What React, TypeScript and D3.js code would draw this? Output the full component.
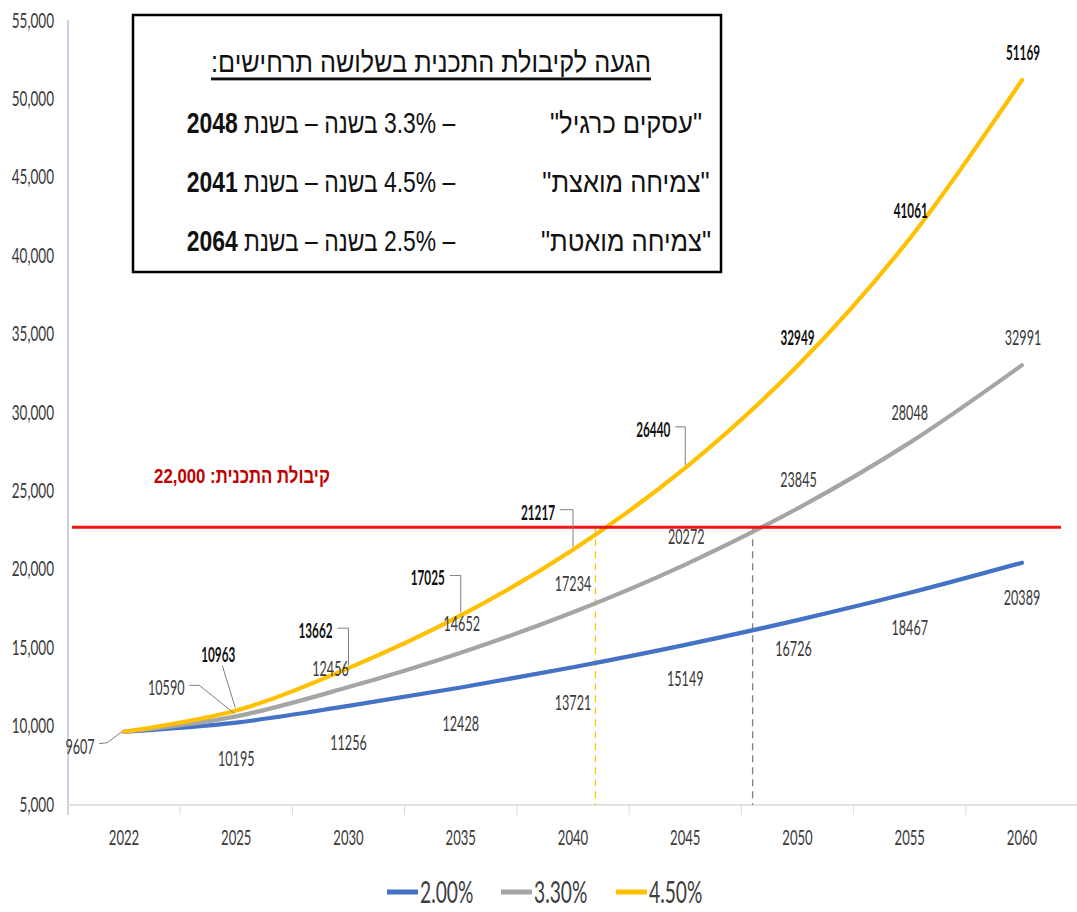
import React from "react";
import * as d3 from "d3";

const years = ["2022", "2025", "2030", "2035", "2040", "2045", "2050", "2055", "2060"];
const seriesNames = ["2.00%", "3.30%", "4.50%"];
const growth20 = [9607, 10195, 11256, 12428, 13721, 15149, 16726, 18467, 20389];
const growth33 = [9607, 10590, 12456, 14652, 17234, 20272, 23845, 28048, 32991];
const growth45 = [9607, 10963, 13662, 17025, 21217, 26440, 32949, 41061, 51169];
const yTicks = [5000, 10000, 15000, 20000, 25000, 30000, 35000, 40000, 45000, 50000, 55000];
const capacityLabel = "קיבולת התכנית: 22,000";
const capacityLineValue = 22650; // as drawn in the picture
const reachYears = [2041, 2048]; // 4.5% and 3.3% reach capacity
const boxTitle = "הגעה לקיבולת התכנית בשלושה תרחישים:";
const scenarioNames = ['"עסקים כרגיל"', '"צמיחה מואצת"', '"צמיחה מואטת"'];
const scenarioRates = ["3.3%", "4.5%", "2.5%"];
const scenarioYears = ["2048", "2041", "2064"];

const colors = ["#4472C4", "#A5A5A5", "#FFC000"];

type Off = null | [number, number, string?];
const labelOffsets: Off[][] = [
  [null, [0, 36], [0, 36], [0, 36], [0, 35], [0, 33], [-4, 28], [0, 34], [0, 34]],
  [null, [-70, -29, "elbow2"], [-18, -19], [1, -30], [0, -29], [1, -28], [1, -29], [0, -30], [1, -28]],
  [[-44, 14, "start"], [-18, -57, "diag"], [-33, -38, "elbow"], [-33, -38, "elbow"], [-35, -38, "elbow"], [-32, -39, "elbow"], [0, -29], [1, -29], [1, -28]],
];

const NUMF = "Lato, 'Liberation Sans', sans-serif";
const HEBF = "'Liberation Sans', 'DejaVu Sans', sans-serif";

function SText(props: any) {
  const { x, y, sx = 0.64, children, ...rest } = props;
  return (
    <text transform={`translate(${x},${y}) scale(${sx},1)`} dominantBaseline="central" {...rest}>
      {children}
    </text>
  );
}

export default function App() {
  const W = 1077, H = 912;
  const x = d3.scalePoint<string>().domain(years).range([124, 1022]);
  const y = d3.scaleLinear().domain([5000, 55000]).range([804, 20]);
  const step = x.step();
  const series = [growth20, growth33, growth45];
  const line = d3
    .line<number>()
    .x((_, i) => x(years[i]) as number)
    .y((d) => y(d))
    .curve(d3.curveCatmullRom.alpha(0.5));

  const yearToX = (yr: number) => {
    const ys = years.map(Number);
    for (let i = 0; i < ys.length - 1; i++) {
      if (yr >= ys[i] && yr <= ys[i + 1]) {
        const f = (yr - ys[i]) / (ys[i + 1] - ys[i]);
        return (x(years[i]) as number) + f * step;
      }
    }
    return x(years[0]) as number;
  };

  const axisY = y(5000) + 1;
  const left = (x(years[0]) as number) - step / 2;
  const boundaries = d3.range(years.length + 1).map((i) => left + i * step);

  const labels: any[] = [];
  const leaders: any[] = [];
  series.forEach((vals, s) => {
    vals.forEach((v, i) => {
      const off = labelOffsets[s][i];
      if (!off) return;
      const px = x(years[i]) as number;
      const py = y(v);
      const lx = px + off[0];
      const ly = py + off[1];
      const bold = s === 2 && i > 0;
      labels.push(
        <SText
          key={`l${s}-${i}`}
          x={lx}
          y={ly}
          sx={bold ? 0.56 : 0.6}
          textAnchor="middle"
          fontFamily={NUMF}
          fontSize={21}
          fontWeight={bold ? 700 : 400}
          fill={bold ? "#111" : "#3a3a3a"}
        >
          {v}
        </SText>
      );
      const t = off[2];
      let pts: [number, number][] | null = null;
      if (t === "elbow") pts = [[lx + 22, ly - 2], [px, ly - 2], [px, py - 3]];
      if (t === "elbow2") pts = [[lx + 23, ly - 2], [lx + 33, ly - 2], [px - 2, py - 3]];
      if (t === "diag") pts = [[lx + 4, ly + 12], [px - 1, py - 3]];
      if (t === "start") pts = [[lx + 19, ly - 2], [lx + 27, ly - 3], [px - 2, py]];
      if (pts)
        leaders.push(
          <path key={`ld${s}-${i}`} d={d3.line()(pts) as string} fill="none" stroke="#808080" strokeWidth={1} />
        );
    });
  });

  const capY = y(capacityLineValue);
  const legendItems = [
    { lx: 387, tx: 420 },
    { lx: 501, tx: 534 },
    { lx: 616, tx: 649 },
  ];

  return (
    <svg width={W} height={H} style={{ position: "absolute", left: 0, top: 0, background: "#fff" }}>
      <rect x={0} y={0} width={W} height={H} fill="#fff" />
      {/* y axis line */}
      <line x1={68} x2={68} y1={20} y2={axisY + 10} stroke="#B4C6E0" strokeWidth={1.5} />
      {/* x axis */}
      <line x1={68} x2={W} y1={axisY} y2={axisY} stroke="#D9D9D9" strokeWidth={1.5} />
      {boundaries.map((bx, i) => (
        <line key={`tk${i}`} x1={bx} x2={bx} y1={axisY} y2={axisY + 10} stroke="#D9D9D9" strokeWidth={1} />
      ))}
      {yTicks.map((t) => (
        <SText key={`yt${t}`} x={54} y={y(t)} sx={0.66} textAnchor="end" fontFamily={NUMF} fontSize={20.5} fill="#3a3a3a">
          {d3.format(",")(t)}
        </SText>
      ))}
      {years.map((yr) => (
        <SText key={`xt${yr}`} x={x(yr)} y={837} sx={0.64} textAnchor="middle" fontFamily={NUMF} fontSize={20.5} fill="#3a3a3a">
          {yr}
        </SText>
      ))}

      {/* reach dashed lines */}
      <line x1={yearToX(reachYears[0])} x2={yearToX(reachYears[0])} y1={capY} y2={axisY} stroke="#FFC000" strokeWidth={1.3} strokeDasharray="7,5" />
      <line x1={yearToX(reachYears[1])} x2={yearToX(reachYears[1])} y1={capY} y2={axisY} stroke="#7F7F7F" strokeWidth={1.3} strokeDasharray="7,5" />

      {/* series lines */}
      {series.map((vals, s) => (
        <path key={`s${s}`} d={line(vals) as string} fill="none" stroke={colors[s]} strokeWidth={4.2} strokeLinecap="round" strokeLinejoin="round" />
      ))}

      {/* capacity line */}
      <line x1={72} x2={1061} y1={capY} y2={capY} stroke="#F01414" strokeWidth={3} />
      <SText x={242} y={476} sx={0.8} textAnchor="middle" direction="rtl" fontFamily={HEBF} fontSize={21} fontWeight={700} fill="#C00000">
        {capacityLabel}
      </SText>

      {leaders}
      {labels}

      {/* annotation box */}
      <rect x={133} y={15} width={588} height={257} fill="#fff" stroke="#000" strokeWidth={2.5} />
      <SText x={431} y={62} sx={0.87} textAnchor="middle" direction="rtl" fontFamily={HEBF} fontSize={29} fill="#111" style={{ textDecoration: "underline" }}>
        {boxTitle}
      </SText>
      {scenarioNames.map((nm, i) => {
        const ry = 123 + i * 59;
        return (
          <g key={`row${i}`}>
            <SText x={626} y={ry} sx={0.88} textAnchor="middle" direction="rtl" fontFamily={HEBF} fontSize={29} fill="#111">
              {nm}
            </SText>
            <SText x={321} y={ry} sx={0.79} textAnchor="middle" direction="rtl" fontFamily={HEBF} fontSize={29} fill="#111">
              {"– " + scenarioRates[i] + " בשנה – בשנת "}
              <tspan fontWeight={700}>{scenarioYears[i]}</tspan>
            </SText>
          </g>
        );
      })}

      {/* legend */}
      {seriesNames.map((nm, i) => (
        <g key={`lg${i}`}>
          <line x1={legendItems[i].lx} x2={legendItems[i].lx + 31} y1={892} y2={892} stroke={colors[i]} strokeWidth={5} />
          <SText x={legendItems[i].tx} y={891} sx={0.62} textAnchor="start" fontFamily={NUMF} fontSize={31} fill="#404040">
            {nm}
          </SText>
        </g>
      ))}
    </svg>
  );
}
